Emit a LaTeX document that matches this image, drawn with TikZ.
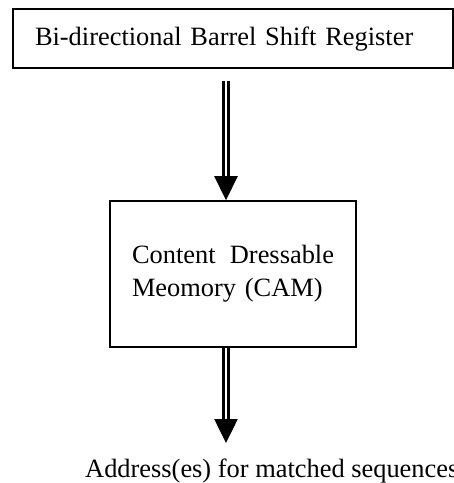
\documentclass[tikz,border=0pt]{standalone}
\usepackage{fontspec}
\setmainfont{Liberation Serif}
\usetikzlibrary{positioning,arrows.meta}
\begin{document}
\begin{tikzpicture}[x=1pt, y=1pt,
  box/.style={draw, line width=1.8pt, align=left, inner xsep=22pt, font=\fontsize{26.4}{33}\selectfont},
  dbl/.style={double, line width=2.6pt, double distance=2.8pt, -{Triangle[length=24pt,width=23pt]}},
  txt/.style={font=\fontsize{26.4}{33}\selectfont, inner sep=0pt}
]
\useasboundingbox (0,0) rectangle (454,-483);
\node[box, line width=2pt, text width=396pt, minimum height=59pt] (top) at (233,-38.7) {Bi-directional Barrel Shift Register};
\node[box, text width=202pt, minimum height=146pt, below=131pt of top] (cam) {Content\hfill Dressable\\Meomory (CAM)};
\node[txt, anchor=base west] (addr) at (85,-477) {Address(es) for matched sequences};
\coordinate (tip) at (226,-443);
\draw[dbl, shorten <=12pt] ([xshift=-7pt]top.south) -- ([xshift=-7pt]cam.north);
\draw[dbl] ([xshift=-7pt]cam.south) -- (tip);
\end{tikzpicture}
\end{document}
